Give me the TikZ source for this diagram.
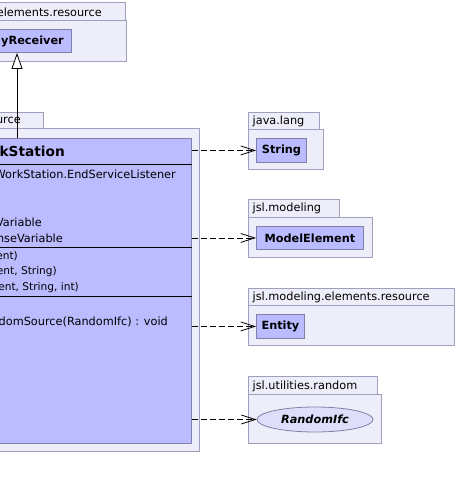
\documentclass[tikz,border=0pt]{standalone}
\usepackage{fontspec}
\setmainfont{DejaVu Sans}
\usetikzlibrary{arrows.meta,shapes.geometric}
\definecolor{pkgfill}{RGB}{238,238,250}
\definecolor{pkgline}{RGB}{160,160,190}
\definecolor{clsfill}{RGB}{187,187,255}
\definecolor{clsline}{RGB}{128,128,168}
\definecolor{ifcfill}{RGB}{222,222,250}
\tikzset{
  pkg/.style={draw=pkgline, fill=pkgfill, line width=0.9pt, inner sep=0pt, anchor=north west},
  cls/.style={draw=clsline, fill=clsfill, line width=0.9pt, inner sep=0pt, anchor=north west},
  ifc/.style={ellipse, draw=clsline, fill=ifcfill, line width=0.8pt, inner sep=0pt,
    minimum width=116pt, minimum height=25pt},
  txt/.style={inner sep=0pt, font=\fontsize{11.3}{13}\selectfont},
  ctor/.style={inner sep=0pt, font=\fontsize{10.6}{13}\selectfont},
  bold/.style={txt, font=\fontsize{11.3}{13}\selectfont\bfseries},
  ttl/.style={inner sep=0pt, font=\fontsize{13.7}{16}\selectfont\bfseries},
  sep/.style={line width=0.9pt, black},
  dep/.style={dash pattern=on 6pt off 3pt, line width=0.8pt,
    -{Straight Barb[length=14pt,width=9pt,line width=0.8pt]}},
  inh/.style={line width=0.8pt, -{Triangle[length=16pt,width=11pt,fill=white,line width=0.8pt]}}
}
\begin{document}
\begin{tikzpicture}[x=1pt,y=-1pt]
\useasboundingbox (0,0) rectangle (458,489);
\clip (0,0) rectangle (458,489);
\fill[white] (0,0) rectangle (458,489);

% package holding the receiver interface
\node[pkg, minimum width=135pt, minimum height=18pt] (ptopTab) at (-10,2) {};
\node[pkg, minimum width=136pt, minimum height=41pt] (ptop) at (-10,20) {};
\node[txt, anchor=east] (ptopName) at (102,12.5) {elements.resource};
\node[cls, minimum width=81pt, minimum height=23pt] (recv) at (-10,29) {};
\node[bold, anchor=east] (recvName) at (64,41.5) {yReceiver};

% package holding the work station
\node[pkg, minimum width=53pt, minimum height=16pt] (pmainTab) at (-10,112) {};
\node[pkg, minimum width=209pt, minimum height=323pt] (pmain) at (-10,128) {};
\node[txt, anchor=east] (pmainName) at (21,120.5) {urce};
\node[cls, minimum width=251pt, minimum height=305pt] (ws) at (-60,138) {};
\node[ttl, anchor=east] (wsName) at (65,151) {kStation};
\draw[sep] (ws.west |- 0,164) -- (ws.east |- 0,164);
\draw[sep] (ws.west |- 0,247) -- (ws.east |- 0,247);
\draw[sep] (ws.west |- 0,296) -- (ws.east |- 0,296);
\node[txt, anchor=east] (a1) at (176,174) {WorkStation.EndServiceListener};
\node[txt, anchor=east] (a4) at (42,222.5) {Variable};
\node[txt, anchor=east] (a5) at (63,238) {nseVariable};
\node[ctor, anchor=east] (c1) at (18,256) {ent)};
\node[ctor, anchor=east] (c2) at (57,272) {ent, String)};
\node[ctor, anchor=east] (c3) at (79,288) {ent, String, int)};
\node[txt, anchor=east] (m1) at (168,322) {domSource(RandomIfc) : void};

% java.lang
\node[pkg, minimum width=71pt, minimum height=17pt] (pjlTab) at (248,112) {};
\node[pkg, minimum width=75pt, minimum height=40pt] (pjl) at (248,129) {};
\node[txt, anchor=west] (pjlName) at (252.5,121) {java.lang};
\node[cls, minimum width=50pt, minimum height=24pt] (str) at (256,138) {};
\node[bold] (strName) at (str.center) {String};

% jsl.modeling
\node[pkg, minimum width=91pt, minimum height=18pt] (pmTab) at (248,199) {};
\node[pkg, minimum width=124pt, minimum height=40pt] (pm) at (248,217) {};
\node[txt, anchor=west] (pmName) at (252.5,208.5) {jsl.modeling};
\node[cls, minimum width=107pt, minimum height=23pt] (me) at (256,226) {};
\node[bold] (meName) at (me.center) {ModelElement};

% jsl.modeling.elements.resource
\node[pkg, minimum width=206pt, minimum height=17pt] (perTab) at (248,288) {};
\node[pkg, minimum width=206pt, minimum height=40pt] (per) at (248,305) {};
\node[txt, anchor=west] (perName) at (252.5,297) {jsl.modeling.elements.resource};
\node[cls, minimum width=48pt, minimum height=24pt] (ent) at (256,314) {};
\node[bold] (entName) at (ent.center) {Entity};

% jsl.utilities.random
\node[pkg, minimum width=129pt, minimum height=18pt] (purTab) at (248,376) {};
\node[pkg, minimum width=133pt, minimum height=49pt] (pur) at (248,394) {};
\node[txt, anchor=west] (purName) at (252.5,386) {jsl.utilities.random};
\node[ifc] (rnd) at (315,419.5) {};
\node[bold, font=\fontsize{11.3}{13}\selectfont\bfseries\itshape] (rndName) at (rnd.center) {RandomIfc};

% generalisation
\coordinate (wsTop) at (17,138);
\draw[inh] (wsTop) -- (wsTop |- recv.south);

% dependencies
\draw[dep] (ws.east |- str.west) -- (str.west);
\draw[dep] (ws.east |- me.west) -- (me.west);
\draw[dep] (ws.east |- ent.west) -- (ent.west);
\draw[dep] (ws.east |- rnd.west) -- (rnd.west);
\end{tikzpicture}
\end{document}
